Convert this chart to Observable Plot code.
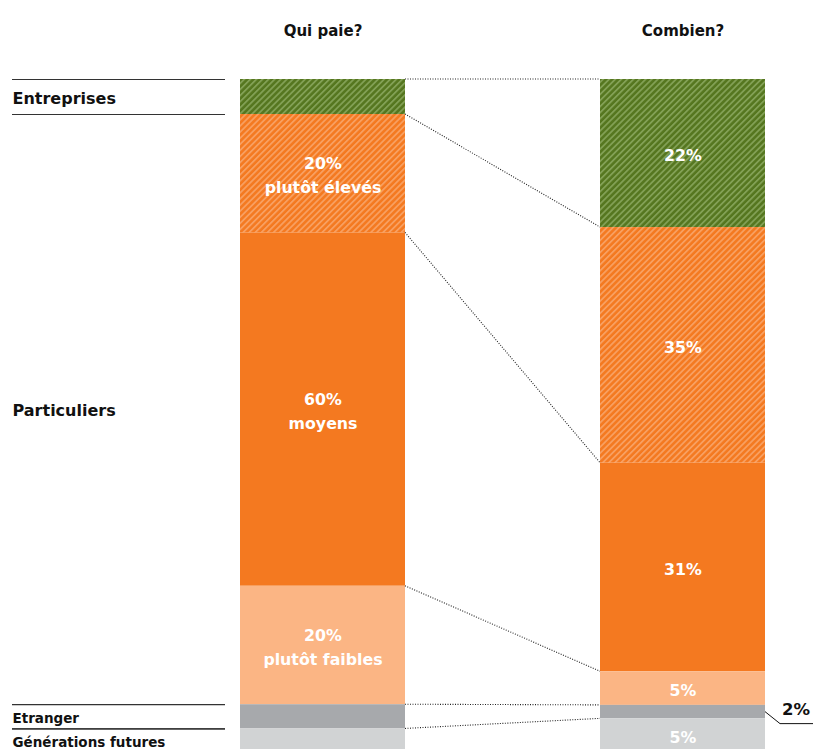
<!DOCTYPE html>
<html>
<head>
<meta charset="utf-8">
<script src="https://cdn.jsdelivr.net/npm/d3@7"></script>
<script src="https://cdn.jsdelivr.net/npm/@observablehq/plot@0.6"></script>
<style>
  html, body { margin: 0; padding: 0; background: #fff; overflow: hidden; }
  #chart svg { display: block; }
</style>
</head>
<body>
<div id="chart"></div>
<script>
// ---- Data ----
const columns = ["Qui paie?", "Combien?"];
const segments = ["Entreprises", "Particuliers plutôt élevés", "Particuliers moyens", "Particuliers plutôt faibles", "Etranger", "Générations futures"];
const groupOf = ["Entreprises", "Particuliers", "Particuliers", "Particuliers", "Etranger", "Générations futures"];
const quiPaie = [5.2, 17.6, 52.5, 17.6, 3.6, 3.5];          // share of total (%)
const combien = [22, 35, 31, 5, 2, 5];                       // share of total (%)
const quiPaieLabels = ["", "20%\nplutôt élevés", "60%\nmoyens", "20%\nplutôt faibles", "", ""];
const combienLabels = ["22%", "35%", "31%", "5%", "2%", "5%"];
const calloutSegment = "Etranger"; // right-column label drawn outside the bar
const groups = ["Entreprises", "Particuliers", "Etranger", "Générations futures"];

// ---- Styling ----
const segmentFills = ["url(#hatch-green)", "url(#hatch-orange)", "#f47920", "#fbb584", "#a7a9ac", "#d1d3d4"];
const FONT = "DejaVu Sans, sans-serif";

// ---- Tables ----
const rows = [];
segments.forEach((s, i) => {
  rows.push({col: columns[0], seg: s, group: groupOf[i], value: quiPaie[i], label: quiPaieLabels[i]});
  rows.push({col: columns[1], seg: s, group: groupOf[i], value: combien[i], label: s === calloutSegment ? "" : combienLabels[i]});
});
const groupRows = groups.map(g => ({
  group: g,
  value: d3.sum(segments.map((s, i) => groupOf[i] === g ? quiPaie[i] : 0)),
  ruled: g !== "Particuliers",
  small: g === "Etranger" || g === "Générations futures"
}));
const leftCum = [0, ...d3.cumsum(quiPaie)];
const rightCum = [0, ...d3.cumsum(combien)];

function patterns() {
  const defs = d3.create("svg:defs");
  const add = (id, base, stripe) => {
    const p = defs.append("pattern")
      .attr("id", id).attr("patternUnits", "userSpaceOnUse")
      .attr("width", 4.3).attr("height", 4.3)
      .attr("patternTransform", "rotate(45)");
    p.append("rect").attr("width", 4.3).attr("height", 4.3).attr("fill", base);
    p.append("rect").attr("width", 1.8).attr("height", 4.3).attr("fill", stripe);
  };
  add("hatch-green", "#55761f", "#82a055");
  add("hatch-orange", "#f47920", "#f89f60");
  return defs.node();
}

function annotations(index, scales) {
  const x = scales.x, y = scales.y;
  const bw = x.bandwidth ? x.bandwidth() : scales.scales.x.bandwidth;
  const xl = x(columns[0]) + bw;  // right edge of left bar
  const xr = x(columns[1]);       // left edge of right bar
  const g = d3.create("svg:g");
  // dotted connectors between matching boundaries
  for (let i = 0; i < segments.length; i++) {
    g.append("line")
      .attr("x1", xl).attr("y1", y(leftCum[i]))
      .attr("x2", xr).attr("y2", y(rightCum[i]))
      .attr("stroke", "#222").attr("stroke-width", 1.1)
      .attr("stroke-dasharray", "1,1.5");
  }
  // callout for the small right segment
  const k = segments.indexOf(calloutSegment);
  const xe = x(columns[1]) + bw;
  const ym = y((rightCum[k] + rightCum[k + 1]) / 2);
  g.append("path")
    .attr("d", `M${xe},${ym} L${xe + 15},${ym + 12} H${xe + 60}`)
    .attr("fill", "none").attr("stroke", "#111").attr("stroke-width", 1);
  g.append("text")
    .attr("x", xe + 31).attr("y", ym + 3.5)
    .attr("text-anchor", "middle")
    .attr("font-family", FONT).attr("font-weight", "bold").attr("font-size", 16.5)
    .attr("fill", "#111")
    .text(combienLabels[k]);
  return g.node();
}

const chart = Plot.plot({
  width: 813,
  height: 760,
  marginTop: 79,
  marginBottom: 8,
  marginLeft: 240,
  marginRight: 48,
  style: {fontFamily: FONT, background: "#fff"},
  x: {domain: columns, paddingInner: 0.5417, paddingOuter: 0, axis: null},
  y: {domain: [0, 100], reverse: true, axis: null},
  color: {domain: segments, range: segmentFills},
  marks: [
    patterns,
    Plot.barY(rows, Plot.stackY({x: "col", y: "value", fill: "seg", inset: 0})),
    Plot.text(rows, Plot.stackY({
      x: "col", y: "value", text: "label",
      fill: "white", fontWeight: "bold", fontSize: 15.8, lineHeight: 1.52
    })),
    // column titles
    Plot.text(columns, {x: d => d, text: d => d, frameAnchor: "top", dy: -54,
      fontWeight: "bold", fontSize: 15, fill: "#111"}),
    // left group labels
    Plot.text(groupRows, Plot.stackY({
      y: "value", text: "group", frameAnchor: "left", textAnchor: "start", dx: -228,
      dy: 1.5,
      fontWeight: "bold", fill: "#111",
      fontSize: d => d.small ? 13.5 : 16
    })),
    // rules above and below group labels
    Plot.ruleY(groupRows, Plot.stackY1({
      y: "value", stroke: "#333", strokeWidth: 1.2,
      strokeOpacity: d => d.ruled ? 1 : 0, insetLeft: -228, insetRight: 540
    })),
    Plot.ruleY(groupRows, Plot.stackY2({
      y: "value", stroke: "#333", strokeWidth: 1.2,
      strokeOpacity: d => d.ruled ? 1 : 0, insetLeft: -228, insetRight: 540
    })),
    annotations
  ]
});
document.getElementById("chart").append(chart);
</script>
</body>
</html>
